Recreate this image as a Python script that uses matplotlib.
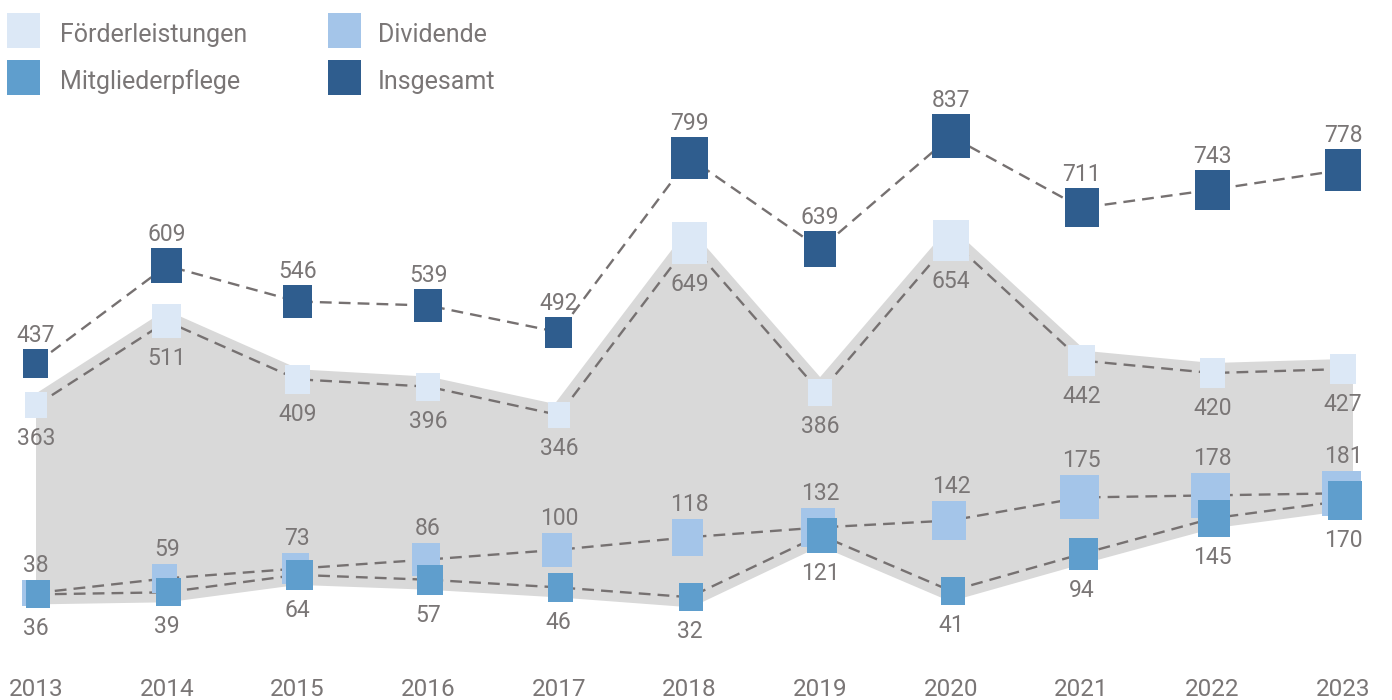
import numpy as np
import matplotlib
matplotlib.use("Agg")
import matplotlib.pyplot as plt
from matplotlib import font_manager
from matplotlib.patches import Polygon, Rectangle
from matplotlib.path import Path
from matplotlib.transforms import offset_copy

# ---------------- data ----------------
years = [2013, 2014, 2015, 2016, 2017, 2018, 2019, 2020, 2021, 2022, 2023]
foerderleistungen = [363, 511, 409, 396, 346, 649, 386, 654, 442, 420, 427]
dividende = [38, 59, 73, 86, 100, 118, 132, 142, 175, 178, 181]
mitgliederpflege = [36, 39, 64, 57, 46, 32, 121, 41, 94, 145, 170]
insgesamt = [437, 609, 546, 539, 492, 799, 639, 837, 711, 743, 778]
series_names = ["Förderleistungen", "Dividende", "Mitgliederpflege", "Insgesamt"]

# ---------------- style ----------------
names = {f.name for f in font_manager.fontManager.ttflist}
FONT = "DejaVu Sans"
for cand in ["Roboto", "Lato", "Open Sans"]:
    if cand in names:
        FONT = cand
        break
plt.rcParams["font.family"] = [FONT, "DejaVu Sans"]
plt.rcParams["font.weight"] = "normal"

TXT = "#7a7676"
LINE = "#767171"
BAND = "#d9d9d9"
C_F = "#dce8f6"
C_D = "#a4c5e9"
C_M = "#5f9ecd"
C_I = "#2f5d8e"

W, H = 1392, 700
DPI = 100
PX2PT = 72 / DPI
ASPECT = 0.87  # marker width / height

fig = plt.figure(figsize=(W / DPI, H / DPI), dpi=DPI)
ax = fig.add_axes([0, 30 / H, 1, 670 / H])
ax2 = ax.twinx()
for a in (ax, ax2):
    a.set_xlim(2012.7246, 2023.3749)
    for s in a.spines.values():
        s.set_visible(False)
    a.set_yticks([])
ax.set_ylim(-103.2, 1077.2)
ax2.set_ylim(-72.4, 888.2)
ax.patch.set_visible(False)

ax.set_xticks(years)
ax.set_xticklabels([str(y) for y in years], fontsize=17.5, color=TXT)
ax.tick_params(axis="x", length=0, pad=6)

# ---------------- band ----------------
x = np.array(years, dtype=float)
bottom_disp = ax2.transData.transform(np.column_stack([x, mitgliederpflege]))
bottom_prim = ax.transData.inverted().transform(bottom_disp)[:, 1]
verts = list(zip(x, foerderleistungen)) + list(zip(x[::-1], bottom_prim[::-1]))
band = Polygon(verts, closed=True, facecolor=BAND, edgecolor=BAND,
               linewidth=20 * PX2PT, joinstyle="miter", zorder=0)
ax.add_patch(band)
clip = Rectangle((years[0], -1e4), 100, 2e4, transform=ax.transData)
band.set_clip_path(clip)

# ---------------- markers ----------------
rect = Path([(-ASPECT / 2, -0.5), (ASPECT / 2, -0.5), (ASPECT / 2, 0.5),
             (-ASPECT / 2, 0.5), (-ASPECT / 2, -0.5)],
            [Path.MOVETO, Path.LINETO, Path.LINETO, Path.LINETO, Path.CLOSEPOLY])


def heights_px(vals, wmin, wmax):
    v = np.array(vals, dtype=float)
    w = wmin + (wmax - wmin) * (v - v.min()) / (v.max() - v.min())
    return w / ASPECT


def draw_series(a, vals, color, wmin, wmax, label_pos, gap_px, dx_px=0, z=3):
    hpx = heights_px(vals, wmin, wmax)
    a.plot(x, vals, color=LINE, lw=1.7, dashes=(5, 3), zorder=2)
    ms = hpx * PX2PT
    tr = offset_copy(a.transData, fig=fig, x=dx_px * PX2PT, y=0, units="points")
    a.scatter(x, vals, s=ms ** 2, marker=rect, color=color, linewidths=0,
              zorder=z, transform=tr)
    for xi, v, h in zip(x, vals, hpx):
        if label_pos == "above":
            a.annotate(str(v), (xi, v), xytext=(0, (h / 2 + gap_px) * PX2PT),
                       textcoords="offset points", ha="center", va="baseline",
                       fontsize=16.5, color=TXT, zorder=6)
        else:
            a.annotate(str(v), (xi, v), xytext=(0, -(h / 2 + gap_px) * PX2PT),
                       textcoords="offset points", ha="center", va="top",
                       fontsize=16.5, color=TXT, zorder=6)


draw_series(ax, foerderleistungen, C_F, 22, 36, "below", 9)
draw_series(ax, insgesamt, C_I, 25, 38, "above", 7, z=4)
draw_series(ax2, dividende, C_D, 23, 39, "above", 8, dx_px=-2)
draw_series(ax2, mitgliederpflege, C_M, 24, 34, "below", 9, dx_px=2, z=4)

# ---------------- legend ----------------
leg = [(series_names[0], C_F, 7, 13, 60), (series_names[1], C_D, 328, 13, 378),
       (series_names[2], C_M, 7, 60, 60), (series_names[3], C_I, 328, 60, 378)]
for name, col, rx, ry, tx in leg:
    fig.add_artist(Rectangle((rx / W, 1 - (ry + 35) / H), 33 / W, 35 / H,
                             transform=fig.transFigure, facecolor=col,
                             edgecolor="none"))
    fig.text(tx / W, 1 - (ry + 29) / H, name, fontsize=18, color=TXT,
             ha="left", va="baseline")

fig.savefig("out.png", dpi=DPI)
